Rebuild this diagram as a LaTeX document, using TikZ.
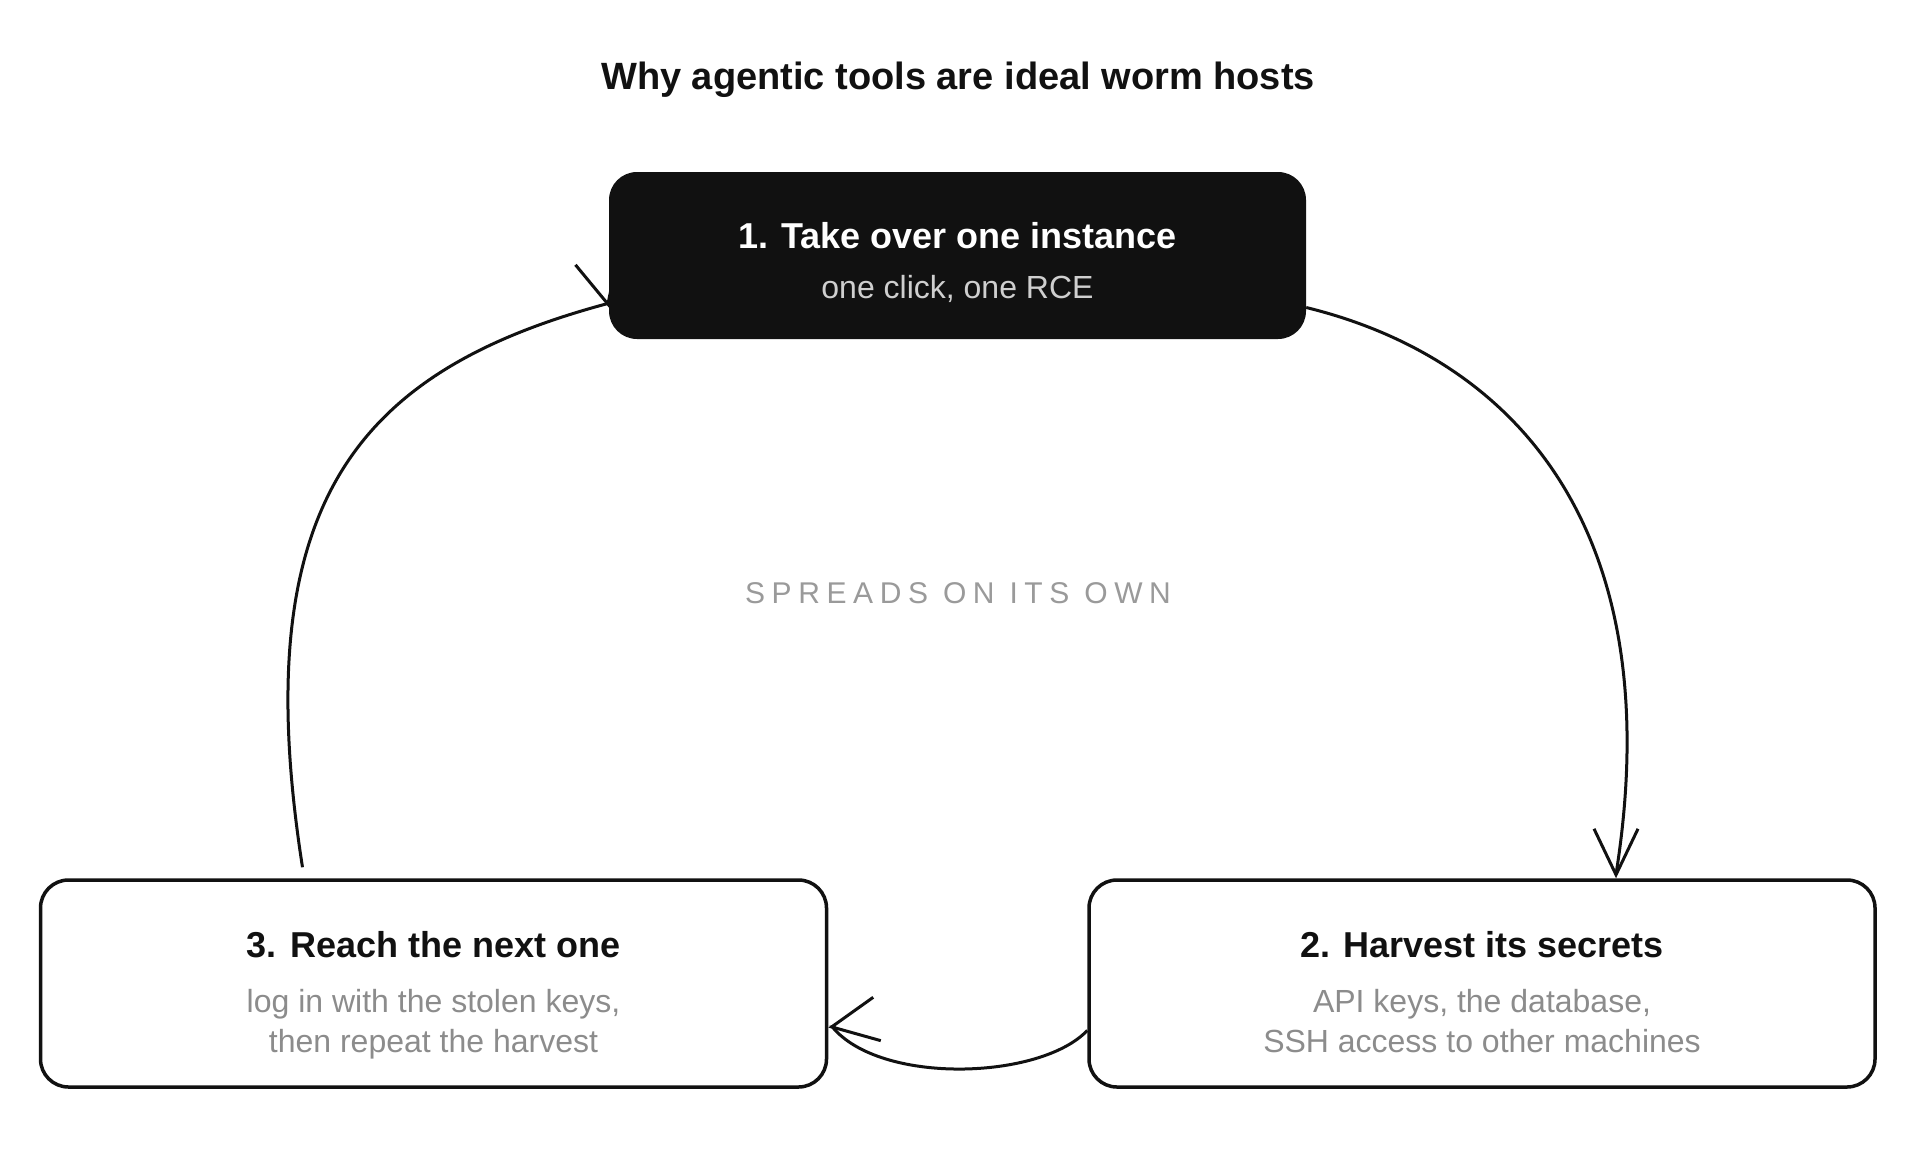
\documentclass[tikz,border=0pt]{standalone}
\usepackage{fontspec}
\setmainfont{Liberation Sans}
\usetikzlibrary{arrows.meta,backgrounds,positioning}
\definecolor{wormink}{HTML}{111111}
\definecolor{wormgrey}{HTML}{8C8C8C}
\definecolor{wormlight}{HTML}{CFCFCF}
\definecolor{wormspread}{HTML}{9A9A9A}

\begin{document}
\begin{tikzpicture}[
    x=1pt, y=-1pt,
    card/.style={rectangle, draw=wormink, line width=3.5pt, fill=white, rounded corners=28pt, minimum width=786pt, minimum height=207pt},
    darkcard/.style={rectangle, fill=wormink, rounded corners=28pt, minimum width=697pt, minimum height=167pt},
    headtext/.style={anchor=base, inner sep=0pt, font=\fontsize{36}{40}\selectfont\bfseries, text=wormink},
    subtext/.style={anchor=base, inner sep=0pt, font=\fontsize{32}{36}\selectfont, text=wormgrey},
    cyclearrow/.style={line width=3pt, wormink, -{Straight Barb[length=46pt, width=44pt, line width=3pt]}}
]
\useasboundingbox (0,0) rectangle (1918,1154);
\begin{scope}[on background layer]
\fill[white] (0,0) rectangle (1918,1154);
\end{scope}

% Title
\node[anchor=base, font=\fontsize{38}{42}\selectfont\bfseries, text=wormink] (title) at (958,89) {Why agentic tools are ideal worm hosts};

% Steps
\node[darkcard] (take) at (957.5,255.5) {};
\node[card] (harvest) at (1482,983.5) {};
\node[card] (reach) at (433.5,983.5) {};

\node[headtext, text=white] (taketitle) at ([yshift=7.5pt]take.center) {1. Take over one instance};
\node[subtext, text=wormlight] (takesub) at ([yshift=-42.5pt]take.center) {one click, one RCE};

\node[headtext] (harvesttitle) at ([yshift=26pt]harvest.center) {2. Harvest its secrets};
\node[subtext] (harvestsub) at ([yshift=-28.5pt]harvest.center) {API keys, the database,};
\node[subtext] (harvestsubb) at ([yshift=-68.5pt]harvest.center) {SSH access to other machines};

\node[headtext] (reachtitle) at ([yshift=26pt]reach.center) {3. Reach the next one};
\node[subtext] (reachsub) at ([yshift=-28.5pt]reach.center) {log in with the stolen keys,};
\node[subtext] (reachsubb) at ([yshift=-68.5pt]reach.center) {then repeat the harvest};

% Middle caption
\node[anchor=base, text=wormspread, font=\fontsize{30}{34}\selectfont\addfontfeature{LetterSpace=22}] (spreads) at (958,603) {SPREADS ON ITS OWN};

% Cycle (a short last piece sets the way each head points)
\begin{scope}[on background layer]
\draw[cyclearrow] ([yshift=-52pt]take.east) .. controls (1520,360) and (1670,535) .. ([xshift=134pt,yshift=4pt]harvest.north) -- ([xshift=134pt]harvest.north);
\draw[cyclearrow] ([yshift=-47pt]harvest.west) .. controls (1040,1080) and (880,1085) .. ([xshift=4pt,yshift=-43.3pt]reach.east) -- ([yshift=-44pt]reach.east);
\draw[cyclearrow] ([xshift=-131pt,yshift=11pt]reach.north) .. controls (245,500) and (360,370) .. ([xshift=-1pt,yshift=-48pt]take.west) -- ([yshift=-52pt]take.west);
\end{scope}

\end{tikzpicture}
\end{document}
